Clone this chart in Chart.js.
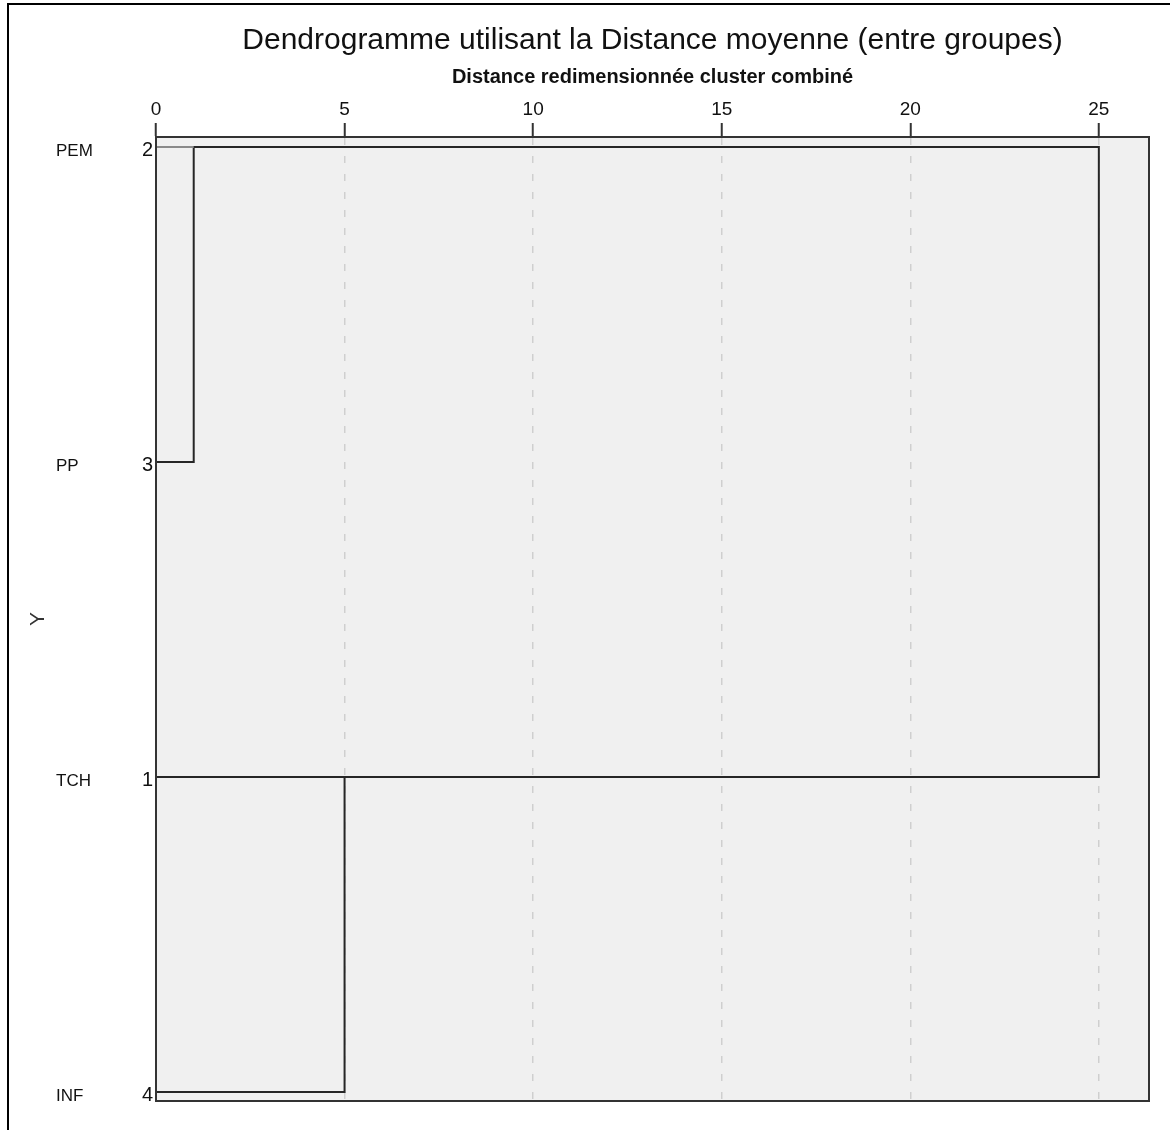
<!DOCTYPE html>
<html>
<head>
<meta charset="utf-8">
<script src="https://cdn.jsdelivr.net/npm/chart.js@4.4.1/dist/chart.umd.min.js"></script>
<style>
html,body{margin:0;padding:0;background:#fff;}
#wrap{width:1170px;height:1130px;position:relative;}
</style>
</head>
<body>
<div id="wrap"><canvas id="c" width="1170" height="1130"></canvas></div>
<script>
// ---- data ----
const leafLabels = ['PEM', 'PP', 'TCH', 'INF'];
const leafNumbers = ['2', '3', '1', '4'];
const mergeRowA = [0, 2, 0];
const mergeRowB = [1, 3, 2];
const mergeDistance = [1, 5, 25];
const distanceTicks = [0, 5, 10, 15, 20, 25];
const titleText = 'Dendrogramme utilisant la Distance moyenne (entre groupes)';
const xTitleText = 'Distance redimensionnée cluster combiné';
const yTitleText = 'Y';

// ---- build dendrogram polylines from the merges ----
const startX = leafLabels.map(() => 0);
const datasets = [];
for (let k = 0; k < mergeDistance.length; k++) {
  const a = mergeRowA[k], b = mergeRowB[k], d = mergeDistance[k];
  datasets.push({
    data: [{x: startX[a], y: a}, {x: d, y: a}, {x: d, y: b}, {x: startX[b], y: b}],
    showLine: true, pointRadius: 0, borderColor: '#262626', borderWidth: 2,
    borderJoinStyle: 'miter', borderCapStyle: 'butt', fill: false, tension: 0,
    xAxisID: 'x', yAxisID: 'y', order: 1
  });
  startX[a] = d;
}
// the very first leaf segment is rendered lighter in the reference
datasets.push({
  data: [{x: 0, y: mergeRowA[0]}, {x: mergeDistance[0], y: mergeRowA[0]}],
  showLine: true, pointRadius: 0, borderColor: '#8a8a8a', borderWidth: 2,
  borderCapStyle: 'butt', fill: false, xAxisID: 'x', yAxisID: 'y', order: 0
});

const FONT = "'Liberation Sans', Arial, Helvetica, sans-serif";

const framePlugin = {
  id: 'frame',
  beforeDraw(chart) {
    const {ctx, chartArea: ca} = chart;
    ctx.save();
    ctx.fillStyle = '#ffffff';
    ctx.fillRect(0, 0, chart.width, chart.height);
    ctx.fillStyle = '#f0f0f0';
    ctx.fillRect(ca.left, ca.top, ca.right - ca.left, ca.bottom - ca.top);
    ctx.restore();
  },
  afterDraw(chart) {
    const {ctx, chartArea: ca} = chart;
    ctx.save();
    ctx.strokeStyle = '#333333';
    ctx.lineWidth = 2;
    ctx.strokeRect(ca.left, ca.top, ca.right - ca.left, ca.bottom - ca.top);
    // outer image border (top and left)
    ctx.strokeStyle = '#000000';
    ctx.lineWidth = 2;
    ctx.beginPath();
    ctx.moveTo(8, 1130);
    ctx.lineTo(8, 4);
    ctx.lineTo(1170, 4);
    ctx.stroke();
    ctx.restore();
  }
};

new Chart(document.getElementById('c'), {
  type: 'scatter',
  data: {datasets},
  options: {
    responsive: false,
    animation: false,
    events: [],
    layout: {padding: {left: 10, right: 21, top: 0, bottom: 29}},
    plugins: {
      legend: {display: false},
      tooltip: {enabled: false},
      title: {
        display: true, text: titleText, color: '#111', fullSize: false,
        font: {family: FONT, size: 30, weight: 'normal', lineHeight: 1.2},
        padding: {top: 23, bottom: 0}
      }
    },
    scales: {
      x: {
        type: 'linear', position: 'top', min: 0, max: 26.33,
        afterBuildTicks: s => { s.ticks = distanceTicks.map(v => ({value: v})); },
        afterFit: s => { s.height = 78; },
        ticks: {color: '#111', font: {family: FONT, size: 19}, padding: 2, maxRotation: 0,
                callback: v => String(v)},
        grid: {display: true, drawOnChartArea: true, drawTicks: true, tickLength: 14,
               color: '#cfcfcf', lineWidth: 1.5, tickColor: '#333', tickWidth: 2},
        border: {display: true, color: '#333', width: 2, dash: [7, 11]},
        title: {display: true, text: xTitleText, color: '#111',
                font: {family: FONT, size: 20, weight: 'bold', lineHeight: 1.2},
                padding: {top: 6, bottom: 0}}
      },
      y: {
        type: 'linear', position: 'left', reverse: true, min: -0.0317, max: 3.0286, weight: 0,
        afterBuildTicks: s => { s.ticks = leafNumbers.map((_, i) => ({value: i})); },
        afterFit: s => { s.width = 20; },
        ticks: {color: '#111', font: {family: FONT, size: 20}, padding: 3, labelOffset: 3,
                callback: v => leafNumbers[v]},
        grid: {display: false, drawTicks: false},
        border: {display: true, color: '#333', width: 2}
      },
      yNames: {
        type: 'linear', position: 'left', reverse: true, min: -0.0317, max: 3.0286, weight: 1,
        afterBuildTicks: s => { s.ticks = leafLabels.map((_, i) => ({value: i})); },
        afterFit: s => { s.width = 80; },
        ticks: {color: '#111', font: {family: FONT, size: 17}, crossAlign: 'far', labelOffset: 4,
                callback: v => leafLabels[v]},
        grid: {display: false, drawTicks: false},
        border: {display: false}
      },
      yTitle: {
        type: 'linear', position: 'left', min: 0, max: 1, weight: 2,
        afterFit: s => { s.width = 46; },
        ticks: {display: false},
        grid: {display: false, drawTicks: false},
        border: {display: false},
        title: {display: true, text: yTitleText, color: '#333',
                font: {family: FONT, size: 21}, padding: {top: 16, bottom: 0}}
      }
    }
  },
  plugins: [framePlugin]
});
</script>
</body>
</html>
